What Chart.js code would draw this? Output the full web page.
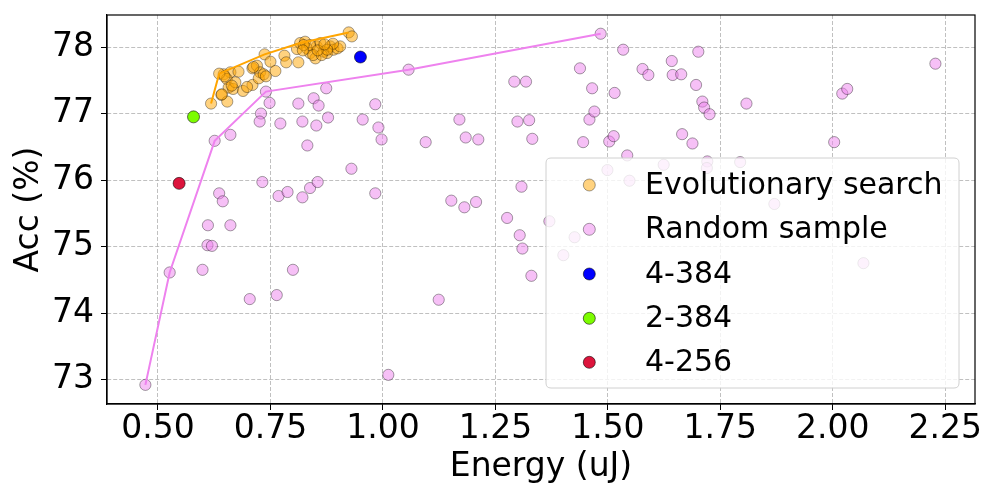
<!DOCTYPE html>
<html>
<head>
<meta charset="utf-8">
<script src="https://cdn.jsdelivr.net/npm/chart.js@4.4.1/dist/chart.umd.min.js"></script>
<style>
html,body{margin:0;padding:0;background:#fff;}
#wrap{width:1000px;height:500px;}
</style>
</head>
<body>
<div id="wrap"><canvas id="c" width="1000" height="500"></canvas></div>
<script>
// ---- data ----
const randomEnergy = [0.472,0.526,0.599,0.611,0.661,0.610,0.620,0.636,0.644,0.704,0.764,0.800,0.732,0.768,0.788,0.821,0.838,0.855,0.983,1.012,
  0.626,0.661,0.740,0.748,0.729,0.726,0.772,0.812,0.821,0.846,0.857,0.852,0.878,0.874,0.832,0.930,0.983,0.955,0.990,0.997,
  1.057,1.484,1.292,1.318,1.438,1.465,1.515,1.534,1.577,1.590,1.642,1.644,1.663,1.696,1.701,1.170,1.095,1.184,1.212,1.299,
  1.325,1.332,1.445,1.459,1.470,1.503,1.513,1.543,1.665,1.688,1.710,1.714,1.726,1.808,2.021,2.032,2.228,2.003,1.152,1.181,
  1.207,1.308,1.276,1.304,1.310,1.330,1.124,1.370,1.426,1.401,1.499,1.548,1.624,1.721,1.720,1.794,1.870,2.068];
const randomAcc = [72.92,74.61,74.65,75.32,75.32,75.02,75.01,75.80,75.68,74.21,74.27,74.65,75.97,75.76,75.82,75.74,75.88,75.97,75.80,73.07,
  76.59,76.68,77.33,77.16,77.00,76.88,76.85,77.15,76.88,77.23,77.12,76.82,76.94,77.38,76.52,76.17,77.14,76.91,76.79,76.61,
  77.66,78.20,77.48,77.48,77.68,77.38,77.31,77.96,77.67,77.58,77.79,77.58,77.59,77.43,77.93,76.91,76.57,76.64,76.61,76.88,
  76.90,76.62,76.57,76.91,77.03,76.58,76.66,76.37,76.69,76.55,77.18,77.09,76.99,77.15,77.30,77.37,77.75,76.57,75.69,75.59,
  75.67,75.90,75.43,75.17,74.97,74.56,74.20,75.38,75.14,74.87,76.15,75.99,76.23,76.28,76.18,76.27,75.64,74.75];

const evoEnergy = [0.618,0.641,0.654,0.646,0.661,0.679,0.653,0.657,0.667,0.672,0.689,0.710,0.710,0.720,0.727,0.724,0.735,0.740,0.737,0.750,
  0.761,0.781,0.785,0.812,0.809,0.816,0.827,0.831,0.838,0.850,0.853,0.861,0.868,0.876,0.883,0.890,0.899,0.905,0.889,0.838,
  0.845,0.924,0.931,0.642,0.664,0.824,0.864,0.876,0.822,0.855,0.870,0.636,0.648,0.698,0.712];
const evoAcc = [77.15,77.28,77.18,77.59,77.62,77.63,77.52,77.39,77.37,77.47,77.34,77.43,77.68,77.72,77.62,77.53,77.59,77.56,77.89,77.78,
  77.64,77.87,77.77,77.77,77.97,78.06,78.08,77.98,77.91,77.83,78.01,78.06,77.93,77.91,78.01,77.96,77.98,78.01,78.05,78.03,
  77.88,78.22,78.16,77.29,77.42,78.03,77.88,77.96,77.95,77.95,78.04,77.60,77.56,77.40,77.70];

const randomFrontEnergy = [0.472,0.526,0.626,0.740,1.057,1.484];
const randomFrontAcc = [72.92,74.61,76.59,77.33,77.66,78.20];
const evoFrontEnergy = [0.618,0.636,0.737,0.816,0.924];
const evoFrontAcc = [77.15,77.60,77.89,78.06,78.22];

const specialLabels = ['4-384','2-384','4-256'];
const specialEnergy = [0.950,0.579,0.547];
const specialAcc = [77.85,76.95,75.95];
const specialColors = ['#0000FF','#7CFC00','#DC143C'];

const xTicks = [0.50,0.75,1.00,1.25,1.50,1.75,2.00,2.25];
const yTicks = [73,74,75,76,77,78];

const xTitle = 'Energy (uJ)';
const yTitle = 'Acc (%)';
const evoLabel = 'Evolutionary search';
const randomLabel = 'Random sample';

// ---- build ----
const pts = (xs, ys) => xs.map((x, i) => ({x: x, y: ys[i]}));
const FONT = "'DejaVu Sans', 'Liberation Sans', sans-serif";

const datasets = [];
datasets.push({label: randomLabel, data: pts(randomEnergy, randomAcc), backgroundColor: 'rgba(238,130,238,0.5)',
  borderColor: 'rgba(0,0,0,0.45)', borderWidth: 0.8, pointRadius: 5.6, order: 5});
datasets.push({label: '_rf', data: pts(randomFrontEnergy, randomFrontAcc), showLine: true, borderColor: '#EE82EE',
  borderWidth: 2, pointRadius: 0, fill: false, order: 4});
datasets.push({label: evoLabel, data: pts(evoEnergy, evoAcc), backgroundColor: 'rgba(255,165,0,0.5)',
  borderColor: 'rgba(0,0,0,0.45)', borderWidth: 0.8, pointRadius: 5.6, order: 3});
datasets.push({label: '_ef', data: pts(evoFrontEnergy, evoFrontAcc), showLine: true, borderColor: '#FFA500',
  borderWidth: 2, pointRadius: 0, fill: false, order: 2});
specialLabels.forEach((lab, i) => {
  datasets.push({label: lab, data: [{x: specialEnergy[i], y: specialAcc[i]}], backgroundColor: specialColors[i],
    borderColor: 'rgba(0,0,0,0.7)', borderWidth: 0.8, pointRadius: 6, order: 1});
});

const legendOrder = [evoLabel, randomLabel].concat(specialLabels);

const framePlugin = {
  id: 'frameLegend',
  afterDraw(chart) {
    const ctx = chart.ctx, a = chart.chartArea;
    ctx.save();
    ctx.strokeStyle = '#000'; ctx.lineWidth = 1.2; ctx.setLineDash([]);
    ctx.strokeRect(a.left, a.top, a.right - a.left, a.bottom - a.top);
    const bx = 546, by = 158, bw = 413, bh = 230, r = 5;
    ctx.beginPath();
    ctx.moveTo(bx + r, by); ctx.lineTo(bx + bw - r, by); ctx.quadraticCurveTo(bx + bw, by, bx + bw, by + r);
    ctx.lineTo(bx + bw, by + bh - r); ctx.quadraticCurveTo(bx + bw, by + bh, bx + bw - r, by + bh);
    ctx.lineTo(bx + r, by + bh); ctx.quadraticCurveTo(bx, by + bh, bx, by + bh - r);
    ctx.lineTo(bx, by + r); ctx.quadraticCurveTo(bx, by, bx + r, by); ctx.closePath();
    ctx.fillStyle = 'rgba(255,255,255,0.8)'; ctx.fill();
    ctx.strokeStyle = '#d0d0d0'; ctx.lineWidth = 1; ctx.stroke();
    const rows = [185, 229.3, 274, 318.3, 362.3];
    legendOrder.forEach((lab, i) => {
      const ds = chart.data.datasets.find(d => d.label === lab);
      ctx.beginPath();
      ctx.arc(589.3, rows[i], 6, 0, Math.PI * 2);
      ctx.fillStyle = ds.backgroundColor; ctx.fill();
      ctx.strokeStyle = ds.borderColor; ctx.lineWidth = 0.8; ctx.stroke();
      ctx.fillStyle = '#000';
      ctx.font = '30px ' + FONT;
      ctx.textBaseline = 'middle'; ctx.textAlign = 'left';
      ctx.fillText(lab, 645, rows[i] + 1);
    });
    ctx.restore();
  }
};

new Chart(document.getElementById('c'), {
  type: 'scatter',
  data: {datasets: datasets},
  options: {
    responsive: false,
    animation: false,
    devicePixelRatio: 1,
    layout: {padding: {left: 0, right: 25, top: 15, bottom: 0}},
    plugins: {legend: {display: false}, tooltip: {enabled: false}},
    scales: {
      x: {
        type: 'linear', min: 0.3867, max: 2.316,
        afterBuildTicks: s => { s.ticks = xTicks.map(v => ({value: v})); },
        afterFit: s => { s.height = 96; s.paddingLeft = 0; s.paddingRight = 0; },
        ticks: {color: '#000', font: {family: FONT, size: 33}, padding: 0, maxRotation: 0,
          callback: v => Number(v).toFixed(2)},
        grid: {color: '#b0b0b0', lineWidth: 0.8, tickColor: '#000', tickLength: 6, tickWidth: 1},
        border: {display: true, color: '#000', width: 1.2, dash: [4, 2]},
        title: {display: true, text: xTitle, color: '#000', font: {family: FONT, size: 33}, padding: {top: 0, bottom: 13}}
      },
      y: {
        type: 'linear', min: 72.632, max: 78.482,
        afterBuildTicks: s => { s.ticks = yTicks.map(v => ({value: v})); },
        afterFit: s => { s.width = 107; s.paddingTop = 0; s.paddingBottom = 0; },
        ticks: {color: '#000', font: {family: FONT, size: 33}, padding: 7, callback: v => String(Math.round(v))},
        grid: {color: '#b0b0b0', lineWidth: 0.8, tickColor: '#000', tickLength: 6, tickWidth: 1},
        border: {display: true, color: '#000', width: 1.2, dash: [4, 2]},
        title: {display: true, text: yTitle, color: '#000', font: {family: FONT, size: 33}, padding: {top: 10, bottom: 0}}
      }
    }
  },
  plugins: [framePlugin]
});
</script>
</body>
</html>
